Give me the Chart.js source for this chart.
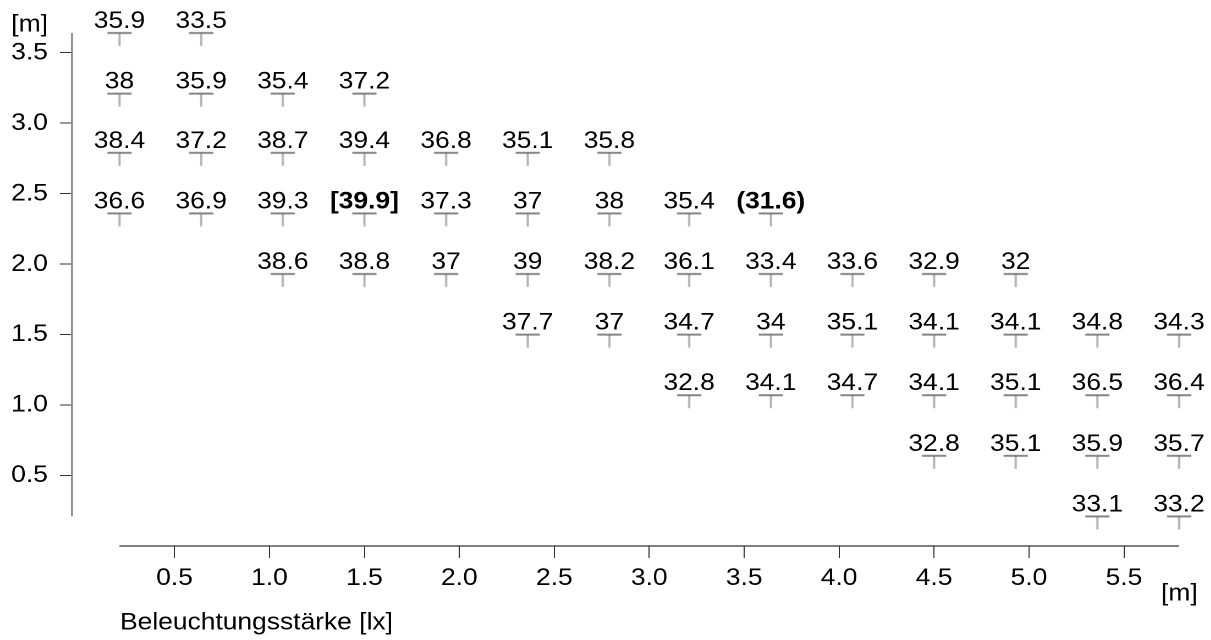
<!DOCTYPE html>
<html>
<head>
<meta charset="utf-8">
<script src="https://cdn.jsdelivr.net/npm/chart.js@4.4.1/dist/chart.umd.min.js"></script>
<style>
  html, body { margin: 0; padding: 0; background: #fff; overflow: hidden; }
  /* the original figure is a little wider than tall in its lettering,
     so the chart is drawn 1101px wide and stretched to 1211px */
  #wrap { width: 1101px; height: 640px; position: relative;
          transform: scaleX(1.1); transform-origin: 0 0; }
</style>
</head>
<body>
<div id="wrap"><canvas id="chart"></canvas></div>
<script>
/* ================= DATA ================= */
// measuring grid positions [m]
const colX = [0.21, 0.64, 1.07, 1.50, 1.93, 2.36, 2.79, 3.21, 3.64, 4.07, 4.50, 4.93, 5.36, 5.79];
const rowY = [3.64, 3.21, 2.79, 2.36, 1.93, 1.50, 1.07, 0.64, 0.21];

// first grid column used by each row
const rowStart = [0, 0, 0, 0, 2, 5, 7, 10, 12];

// measured values per row, left to right
const row1 = [35.9, 33.5];
const row2 = [38, 35.9, 35.4, 37.2];
const row3 = [38.4, 37.2, 38.7, 39.4, 36.8, 35.1, 35.8];
const row4 = [36.6, 36.9, 39.3, 39.9, 37.3, 37, 38, 35.4, 31.6];
const row5 = [38.6, 38.8, 37, 39, 38.2, 36.1, 33.4, 33.6, 32.9, 32];
const row6 = [37.7, 37, 34.7, 34, 35.1, 34.1, 34.1, 34.8, 34.3];
const row7 = [32.8, 34.1, 34.7, 34.1, 35.1, 36.5, 36.4];
const row8 = [32.8, 35.1, 35.9, 35.7];
const row9 = [33.1, 33.2];

const xTicks = [0.5, 1.0, 1.5, 2.0, 2.5, 3.0, 3.5, 4.0, 4.5, 5.0, 5.5];
const yTicks = [0.5, 1.0, 1.5, 2.0, 2.5, 3.0, 3.5];

const xTitle = 'Beleuchtungsstärke [lx]';
const unitLabel = '[m]';

/* ================= BUILD POINTS ================= */
const rows = [row1, row2, row3, row4, row5, row6, row7, row8, row9];
const points = [];
rows.forEach((vals, r) => {
  vals.forEach((v, i) => {
    points.push({ x: colX[rowStart[r] + i], y: rowY[r], v: v });
  });
});
const allVals = points.map(p => p.v);
const maxVal = Math.max(...allVals);
const minVal = Math.min(...allVals);

const SX = 1.1;                 // horizontal stretch of #wrap
const FONT = '"Liberation Sans", Arial, sans-serif';
const FS = 24;

// T-shaped marker: bar at the point, stub below
function makeTee() {
  const c = document.createElement('canvas');
  c.width = 24; c.height = 28;
  const g = c.getContext('2d');
  g.strokeStyle = '#666';
  g.lineWidth = 1.6;
  g.beginPath(); g.moveTo(1, 14); g.lineTo(23, 14); g.stroke();
  g.lineWidth = 1;
  g.beginPath(); g.moveTo(12, 14); g.lineTo(12, 27); g.stroke();
  return c;
}

/* ================= PLUGINS ================= */
const valueLabels = {
  id: 'valueLabels',
  afterDatasetsDraw(chart) {
    const ctx = chart.ctx;
    const meta = chart.getDatasetMeta(0);
    ctx.save();
    ctx.fillStyle = '#000';
    ctx.textAlign = 'center';
    ctx.textBaseline = 'alphabetic';
    meta.data.forEach((el, i) => {
      const v = points[i].v;
      let txt = String(v);
      let bold = false;
      if (v === maxVal) { txt = '[' + txt + ']'; bold = true; }
      if (v === minVal) { txt = '(' + txt + ')'; bold = true; }
      ctx.font = (bold ? 'bold ' : '') + FS + 'px ' + FONT;
      ctx.fillText(txt, el.x, el.y - 5);
    });
    ctx.restore();
  }
};

const axisLines = {
  id: 'axisLines',
  afterDraw(chart) {
    const ctx = chart.ctx;
    const xs = chart.scales.x, ys = chart.scales.y;
    const a = chart.chartArea;
    ctx.save();
    // y axis line spans the measured rows only
    ctx.strokeStyle = '#8a8a8a';
    ctx.lineWidth = 1.8;
    ctx.beginPath();
    ctx.moveTo(a.left, ys.getPixelForValue(rowY[0]));
    ctx.lineTo(a.left, ys.getPixelForValue(rowY[rowY.length - 1]));
    ctx.stroke();
    // x axis line spans the measured columns only
    ctx.strokeStyle = '#333';
    ctx.lineWidth = 1.2;
    ctx.beginPath();
    ctx.moveTo(xs.getPixelForValue(colX[0]), a.bottom);
    ctx.lineTo(xs.getPixelForValue(colX[colX.length - 1]), a.bottom);
    ctx.stroke();

    ctx.fillStyle = '#000';
    ctx.font = FS + 'px ' + FONT;
    ctx.textBaseline = 'middle';
    ctx.textAlign = 'right';
    ctx.fillText(unitLabel, 48 / SX, 25);
    ctx.textAlign = 'left';
    ctx.fillText(unitLabel, 1161 / SX, 594);
    ctx.fillText(xTitle, 120 / SX, 623);
    ctx.restore();
  }
};

/* ================= CHART ================= */
const tickFont = { family: FONT, size: FS };

new Chart(document.getElementById('chart'), {
  type: 'scatter',
  data: {
    datasets: [{
      data: points,
      pointStyle: makeTee(),
      pointRadius: 12,
      pointHoverRadius: 12,
      clip: false
    }]
  },
  options: {
    responsive: true,
    maintainAspectRatio: false,
    animation: false,
    devicePixelRatio: 2,
    events: [],
    layout: { padding: { top: 33, right: 1101 - 1179 / SX, left: 0, bottom: 0 } },
    plugins: { legend: { display: false }, tooltip: { enabled: false } },
    scales: {
      x: {
        type: 'linear',
        min: -0.04,
        max: 5.79,
        afterFit: s => { s.height = 94; },
        afterBuildTicks: s => { s.ticks = xTicks.map(v => ({ value: v })); },
        ticks: { font: tickFont, color: '#000', padding: 6, maxRotation: 0,
                 callback: v => Number(v).toFixed(1) },
        grid: { drawOnChartArea: false, drawTicks: true, tickLength: 12, color: '#333', lineWidth: 1 },
        border: { display: false }
      },
      y: {
        type: 'linear',
        min: 0,
        max: 3.64,
        afterFit: s => { s.width = 72 / SX; },
        afterBuildTicks: s => { s.ticks = yTicks.map(v => ({ value: v })); },
        ticks: { font: tickFont, color: '#000', padding: 11,
                 callback: v => Number(v).toFixed(1) },
        grid: { drawOnChartArea: false, drawTicks: true, tickLength: 11, color: '#333', lineWidth: 1 },
        border: { display: false }
      }
    }
  },
  plugins: [valueLabels, axisLines]
});
</script>
</body>
</html>
